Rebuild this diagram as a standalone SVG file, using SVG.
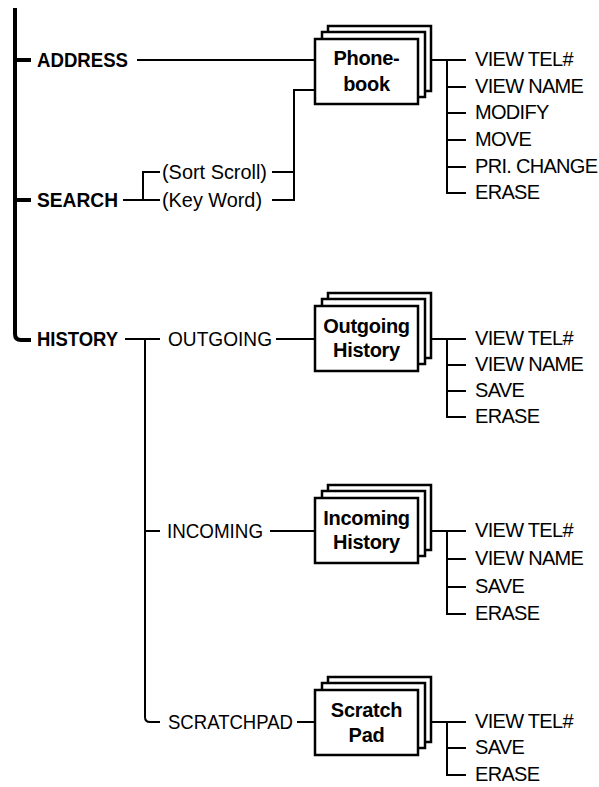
<svg xmlns="http://www.w3.org/2000/svg" width="599" height="787" viewBox="0 0 599 787">
<style>
.ln{fill:none;stroke:#000;stroke-width:2}
.thick{fill:none;stroke:#000;stroke-width:4;stroke-linecap:butt}
.box{fill:#fff;stroke:#000;stroke-width:2.5}
text{font-family:"Liberation Sans",Arial,sans-serif;font-size:20px;fill:#000}
.b{font-weight:bold}
.c{text-anchor:middle;font-weight:bold;letter-spacing:-0.3px}
.i{letter-spacing:-0.7px}
</style>
<defs>
<g id="stack">
<rect class="box" x="13" y="-13" width="103" height="65"/>
<rect class="box" x="7" y="-7" width="103" height="65"/>
<rect class="box" x="0" y="0" width="103" height="65"/>
</g>
</defs>
<rect width="599" height="787" fill="#fff"/>
<g id="connectors">
<path class="thick" d="M15,8 V334 Q15,340 21,340 H31"/>
<path class="thick" d="M15,60 H31 M15,200 H31"/>
<path class="ln" d="M137,60 H315"/>
<path class="ln" d="M123,200 H160 M143,200 V172 H160"/>
<path class="ln" d="M272,172 H294 M272,200 H294 V90 H315"/>
<path class="ln" d="M430,60 H466 M447,60 V193 H466 M447,87 H466 M447,113 H466 M447,140 H466 M447,167 H466"/>
<path class="ln" d="M125,339 H160 M145,339 V717 Q145,722 150,722 H160 M145,531 H160"/>
<path class="ln" d="M276,339 H315 M270,531 H315 M297,722 H315"/>
<path class="ln" d="M430,339 H466 M447,339 V417 H466 M447,365 H466 M447,391 H466"/>
<path class="ln" d="M430,531 H466 M447,531 V614 H466 M447,559 H466 M447,587 H466"/>
<path class="ln" d="M430,722 H466 M447,722 V775 H466 M447,748 H466"/>
</g>
<g id="address"><text class="b" x="37" y="67" textLength="91" lengthAdjust="spacingAndGlyphs">ADDRESS</text></g>
<g id="search"><text class="b" x="37" y="207" textLength="81" lengthAdjust="spacingAndGlyphs">SEARCH</text></g>
<g id="history"><text class="b" x="37" y="346" textLength="81" lengthAdjust="spacingAndGlyphs">HISTORY</text></g>
<g id="sortscroll"><text x="162" y="179" textLength="105" lengthAdjust="spacingAndGlyphs">(Sort Scroll)</text></g>
<g id="keyword"><text x="162" y="207" textLength="100" lengthAdjust="spacingAndGlyphs">(Key Word)</text></g>
<g id="phonebook">
<use href="#stack" x="315" y="39"/>
<text class="c" x="366.5" y="65">Phone-</text>
<text class="c" x="366.5" y="91">book</text>
</g>
<g id="phonebook-items">
<text class="i" x="475" y="66">VIEW TEL#</text>
<text class="i" x="475" y="93">VIEW NAME</text>
<text class="i" x="475" y="119">MODIFY</text>
<text class="i" x="475" y="146">MOVE</text>
<text class="i" x="475" y="173">PRI. CHANGE</text>
<text class="i" x="475" y="199">ERASE</text>
</g>
<g id="outgoing"><text x="168" y="346" textLength="104" lengthAdjust="spacingAndGlyphs">OUTGOING</text></g>
<g id="outgoing-history">
<use href="#stack" x="315" y="306"/>
<text class="c" x="366.5" y="333">Outgoing</text>
<text class="c" x="366.5" y="357">History</text>
</g>
<g id="outgoing-items">
<text class="i" x="475" y="345">VIEW TEL#</text>
<text class="i" x="475" y="371">VIEW NAME</text>
<text class="i" x="475" y="397">SAVE</text>
<text class="i" x="475" y="423">ERASE</text>
</g>
<g id="incoming"><text x="167" y="538" textLength="96" lengthAdjust="spacingAndGlyphs">INCOMING</text></g>
<g id="incoming-history">
<use href="#stack" x="315" y="498"/>
<text class="c" x="366.5" y="525">Incoming</text>
<text class="c" x="366.5" y="549">History</text>
</g>
<g id="incoming-items">
<text class="i" x="475" y="537">VIEW TEL#</text>
<text class="i" x="475" y="565">VIEW NAME</text>
<text class="i" x="475" y="593">SAVE</text>
<text class="i" x="475" y="620">ERASE</text>
</g>
<g id="scratchpad"><text x="168" y="729" textLength="125" lengthAdjust="spacingAndGlyphs">SCRATCHPAD</text></g>
<g id="scratch-pad">
<use href="#stack" x="315" y="690"/>
<text class="c" x="366.5" y="717">Scratch</text>
<text class="c" x="366.5" y="742">Pad</text>
</g>
<g id="scratch-items">
<text class="i" x="475" y="728">VIEW TEL#</text>
<text class="i" x="475" y="754">SAVE</text>
<text class="i" x="475" y="781">ERASE</text>
</g>
</svg>
